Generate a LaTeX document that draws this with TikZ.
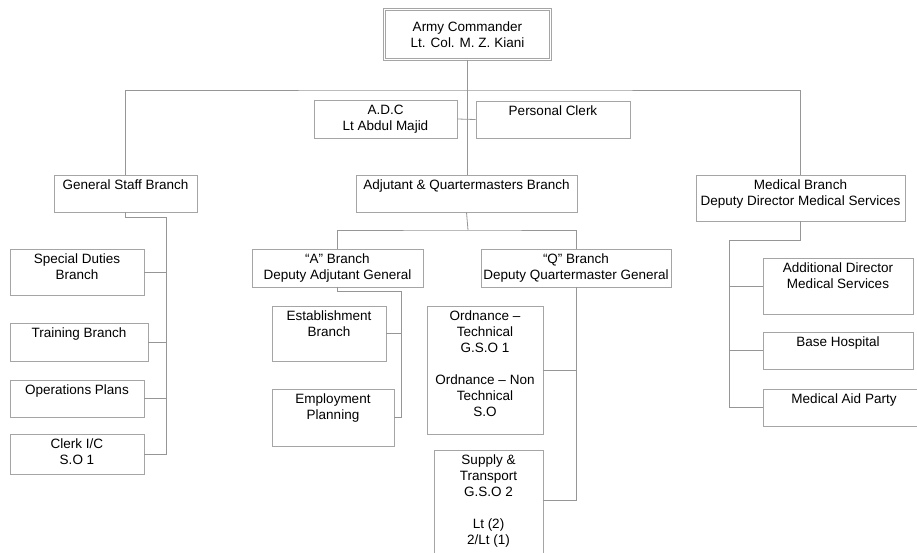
\documentclass[tikz,border=0pt]{standalone}
\usepackage{fontspec}
\setmainfont{Liberation Sans}
\usetikzlibrary{fit}
\definecolor{boxgray}{RGB}{165,165,165}
\definecolor{linegray}{RGB}{150,150,150}
\begin{document}
\begin{tikzpicture}[x=1pt, y=-1pt,
	font=\fontsize{13.5}{16}\selectfont,
	box/.style={draw=boxgray, line width=0.8pt, inner sep=0pt},
	txt/.style={anchor=north, align=center, yshift=-1.5pt},
	link/.style={draw=linegray, line width=0.8pt}]
	\clip (0,0) rectangle (917,552);
	%commander
	\node[box, double, double distance=1.6pt, minimum width=166pt, minimum height=50pt,
	align=center] (cmd) at (467.5,34.5) {Army Commander\\Lt. Col. M. Z. Kiani};
	%staff
	\node[box, fit={(314,100) (457,138)}, label={[txt]north:A.D.C\\Lt Abdul Majid}] (adc) {};
	\node[box, fit={(476,101) (630,138)}, label={[txt]north:Personal Clerk}] (pcl) {};
	%branches
	\node[box, fit={(54,175) (197,212)}, label={[txt]north:General Staff Branch}] (gsb) {};
	\node[box, fit={(356,175) (577,212)}, label={[txt]north:Adjutant \& Quartermasters Branch}] (aqb) {};
	\node[box, fit={(696,175) (905,221)}, label={[txt]north:Medical Branch\\Deputy Director Medical Services}] (med) {};
	%general staff
	\node[box, fit={(10,249) (144,295)}, label={[txt]north:Special Duties\\Branch}] (sdb) {};
	\node[box, fit={(10,323) (148,361)}, label={[txt]north:Training Branch}] (trn) {};
	\node[box, fit={(10,380) (144,417)}, label={[txt]north:Operations Plans}] (ops) {};
	\node[box, fit={(10,434) (144,474)}, label={[txt]north:Clerk I/C\\S.O 1}] (clk) {};
	%adjutant and quartermasters
	\node[box, fit={(252,249) (423,287)}, label={[txt]north:“A” Branch\\Deputy Adjutant General}] (abr) {};
	\node[box, fit={(481,249) (671,287)}, label={[txt]north:“Q” Branch\\Deputy Quartermaster General}] (qbr) {};
	\node[box, fit={(272,306) (386,361)}, label={[txt]north:Establishment\\Branch}] (est) {};
	\node[box, fit={(272,389) (394,446)}, label={[txt]north:Employment\\Planning}] (emp) {};
	\node[box, fit={(427,306) (543,434)}, label={[txt]north:Ordnance --\\Technical\\G.S.O 1\\[16pt]Ordnance -- Non\\Technical\\S.O}] (ord) {};
	\node[box, fit={(434,450) (543,560)}, label={[txt]north:Supply \&\\Transport\\G.S.O 2\\[16pt]Lt (2)\\2/Lt (1)}] (sup) {};
	%medical
	\node[box, fit={(763,258) (913,314)}, label={[txt]north:Additional Director\\Medical Services}] (add) {};
	\node[box, fit={(763,332) (913,369)}, label={[txt]north:Base Hospital}] (bas) {};
	\node[box, fit={(763,389) (925,426)}, label={[txt]north:Medical Aid Party}] (aid) {};
	%top links
	\coordinate (top bar) at (468,90);
	\draw[link] (gsb.north) |- (top bar) -| (med.north);
	\draw[link] (cmd.south) -- (cmd.south |- aqb.north);
	\draw[link] (adc.east) -- (pcl.west);
	%general staff links
	\coordinate (gs spine) at (166,217);
	\draw[link] (gsb.south) |- (gs spine) |- (clk.east);
	\foreach \b in {sdb,trn,ops}
	\draw[link] (\b.east) -- (\b.east -| gs spine);
	%adjutant and quartermasters links
	\coordinate (aq bar) at (468,230);
	\draw[link] (aqb.south) -- (aq bar);
	\draw[link] (abr.north) |- (aq bar) -| (qbr.north);
	\coordinate (a spine) at (401,291);
	\draw[link] (abr.south) |- (a spine) |- (emp.east);
	\draw[link] (est.east) -- (est.east -| a spine);
	\coordinate (q end) at (576,500);
	\draw[link] (qbr.south) -- (q end) -- (q end -| sup.east);
	\draw[link] (ord.east) -- (ord.east -| qbr.south);
	%medical links
	\coordinate (m spine) at (729,240);
	\draw[link] (med.south) |- (m spine) |- (aid.west);
	\foreach \b in {add,bas}
	\draw[link] (\b.west) -- (\b.west -| m spine);
\end{tikzpicture}
\end{document}
